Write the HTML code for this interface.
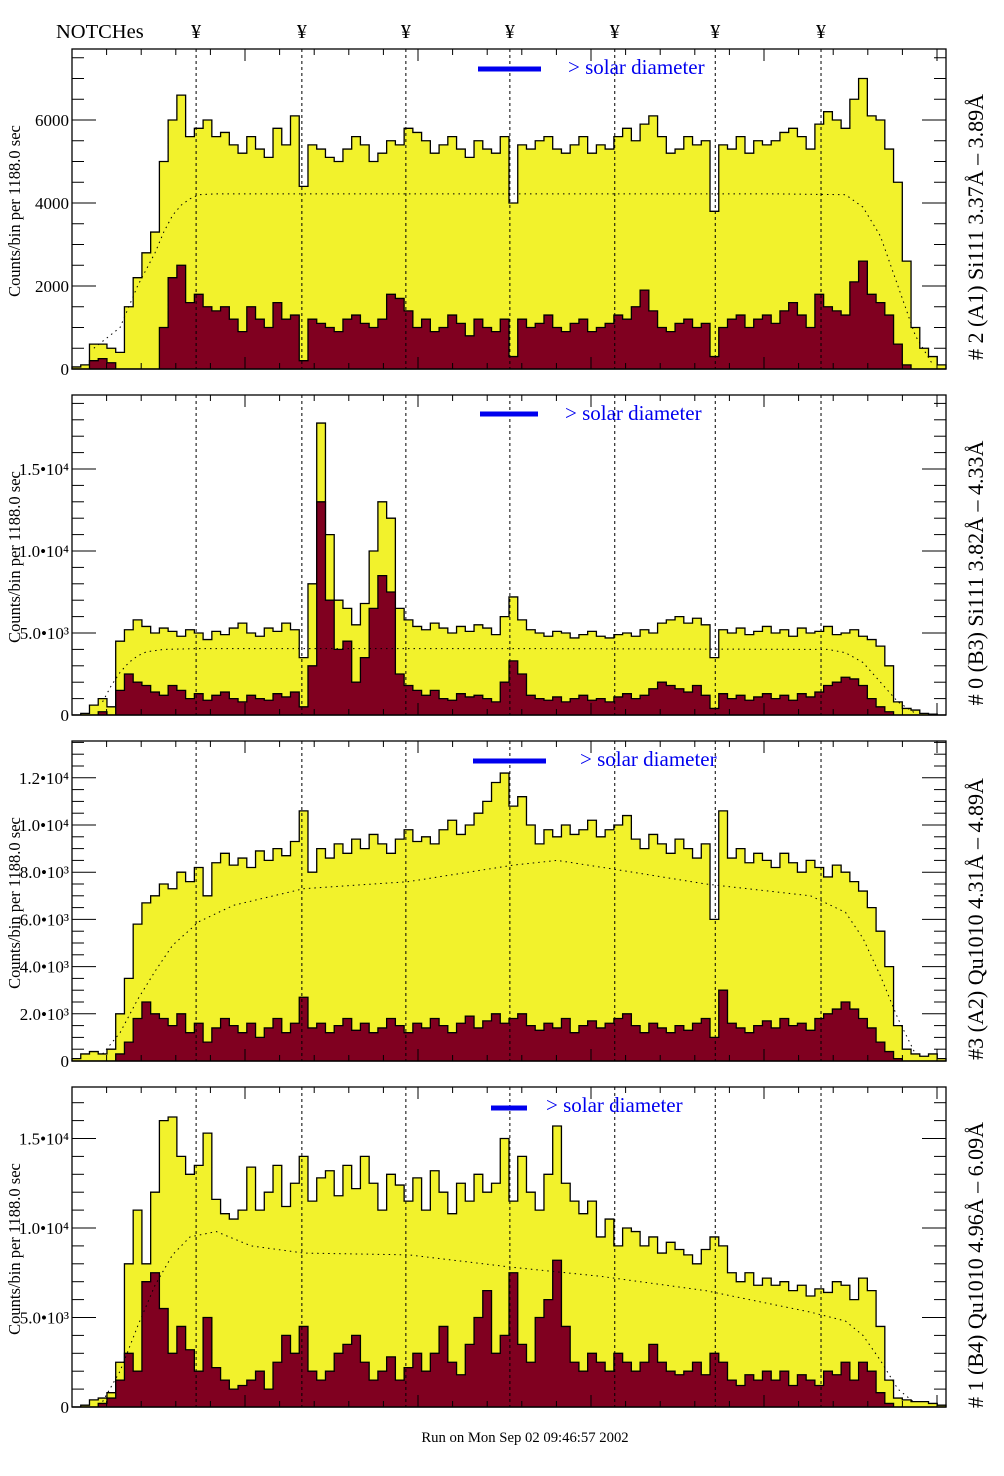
<!DOCTYPE html>
<html><head><meta charset="utf-8"><style>
html,body{margin:0;padding:0;background:#fff;}
svg{display:block;font-family:"Liberation Serif",serif;}
</style></head><body>
<svg id="chart" width="1004" height="1476" viewBox="0 0 1004 1476" xmlns="http://www.w3.org/2000/svg">
<rect x="0" y="0" width="1004" height="1476" fill="#fff"/>
<text x="56" y="38" font-size="20.5">NOTCHes</text>
<text x="525" y="1442" font-size="14.7" text-anchor="middle">Run on Mon Sep 02 09:46:57 2002</text>
</svg>
<script>
// ---- data (values in thousands of counts) ----
const p1Yellow=[0.05,0.1,0.6,0.6,0.5,0.4,1.5,2.2,2.8,3.3, 5.0,6.0,6.6,5.6,5.8,6.0,5.6,5.7,5.4,5.2, 5.6,5.3,5.1,5.8,5.4,6.1,4.4,5.4,5.3,5.1, 5.0,5.3,5.6,5.4,5.0,5.2,5.5,5.4,5.8,5.7, 5.5,5.2,5.4,5.6,5.3,5.1,5.5,5.3,5.2,5.6, 4.0,5.4,5.3,5.5,5.6,5.3,5.2,5.4,5.6,5.2, 5.4,5.3,5.6,5.8,5.5,5.9,6.1,5.6,5.2,5.3, 5.6,5.4,5.5,3.8,5.4,5.3,5.6,5.2,5.5,5.4, 5.5,5.7,5.8,5.6,5.3,5.9,6.2,6.0,5.8,6.5, 7.0,6.1,6.0,5.3,4.5,2.6,1.0,0.5,0.3,0.1];
const p1Red=[0,0,0.2,0.25,0.15,0,0,0,0,0, 1.0,2.2,2.5,1.6,1.8,1.5,1.4,1.5,1.2,0.9, 1.5,1.2,1.0,1.6,1.2,1.3,0.2,1.2,1.1,1.0, 0.9,1.2,1.3,1.1,1.0,1.2,1.8,1.7,1.4,1.0, 1.2,0.9,1.0,1.3,1.1,0.8,1.2,1.0,0.9,1.2, 0.3,1.2,1.0,1.1,1.3,1.0,0.9,1.1,1.2,0.9, 1.0,1.1,1.3,1.2,1.5,1.9,1.4,1.0,0.9,1.1, 1.2,1.0,1.1,0.3,1.0,1.2,1.3,1.0,1.2,1.3, 1.1,1.4,1.6,1.3,1.0,1.8,1.5,1.4,1.3,2.1, 2.6,1.8,1.6,1.3,0.6,0.1,0,0,0,0];
const p1CurveBin=[2,5,7,9,10,11,12,13,14,16,20,50,80,88,90,92,94,96,98];
const p1CurveVal=[0.5,1.0,2.0,2.8,3.3,3.7,3.95,4.1,4.2,4.22,4.22,4.22,4.22,4.2,3.9,3.2,2.0,0.8,0.1];

const p2Yellow=[0,0.1,0.6,1.0,0.5,4.5,5.2,5.8,5.4,5.0, 5.3,5.1,4.8,5.2,5.0,4.6,5.1,4.9,5.3,5.6, 5.0,4.8,5.3,5.1,5.6,5.2,3.5,8.0,17.8,11.0, 7.0,6.5,5.5,6.8,10.0,13.0,12.0,6.5,5.8,5.4, 5.2,5.6,5.3,5.0,5.4,5.1,5.5,5.3,4.9,6.0, 7.2,5.8,5.2,5.0,4.8,5.1,5.0,4.7,4.9,5.1, 4.8,4.7,4.9,5.0,4.8,5.2,5.0,5.6,5.8,6.0, 5.6,5.9,5.5,3.5,5.2,5.0,5.3,4.9,5.1,5.4, 5.0,5.2,4.8,5.3,5.0,5.1,5.4,4.9,5.0,5.2, 4.8,4.6,4.2,3.0,0.8,0.4,0.3,0.1,0.05,0];
const p2Red=[0,0,0,0.2,0,1.5,2.5,2.0,1.8,1.4, 1.2,1.8,1.5,1.0,1.3,0.9,1.2,1.4,1.0,0.8, 1.2,1.0,0.9,1.3,1.1,1.4,0.5,3.0,13.0,7.0, 4.0,4.5,2.0,3.5,6.5,8.5,7.5,2.5,1.8,1.5, 1.2,1.5,1.0,0.9,1.3,1.1,1.2,1.0,0.8,2.0, 3.3,2.5,1.2,1.0,0.9,1.1,0.8,1.0,1.2,0.9, 1.0,0.8,1.1,1.3,1.0,1.2,1.6,2.0,1.8,1.6, 1.4,1.8,1.2,0.4,1.3,1.0,1.2,0.9,1.1,1.3, 1.0,1.2,0.9,1.3,1.1,1.4,1.8,2.0,2.3,2.2, 1.8,1.0,0.5,0.2,0,0,0,0,0,0];
const p2CurveBin=[3,4,5,6,7,8,10,14,50,86,88,90,92,94,96];
const p2CurveVal=[0.8,1.8,2.6,3.2,3.6,3.85,4.0,4.05,4.05,4.0,3.8,3.2,2.0,0.8,0.1];

const p3Yellow=[0.1,0.3,0.4,0.3,0.5,2.0,3.5,5.8,6.7,7.0, 7.5,7.3,8.0,7.6,8.2,7.0,8.4,8.8,8.3,8.6, 8.2,8.9,8.5,9.0,8.7,9.3,10.6,8.0,9.0,8.6, 9.2,8.8,9.4,9.0,9.6,9.2,8.8,9.4,9.8,9.3, 9.5,9.2,9.8,10.2,9.6,10.0,10.5,11.0,11.8,12.2, 10.8,11.2,10.0,9.2,9.8,9.5,10.0,9.6,9.8,10.2, 9.5,9.8,10.0,10.4,9.4,9.0,9.6,9.2,8.8,9.4, 9.0,8.6,9.2,6.0,10.6,8.6,9.0,8.4,8.8,8.5, 8.2,8.8,8.4,8.0,8.5,8.2,7.8,8.3,8.0,7.6, 7.2,6.5,5.5,4.0,1.5,0.5,0.3,0.2,0.3,0.1];
const p3Red=[0,0,0,0,0,0.3,0.8,1.8,2.5,2.0, 1.8,1.5,2.0,1.2,1.6,0.8,1.4,1.8,1.5,1.2, 1.6,1.0,1.4,1.8,1.2,1.6,2.7,1.4,1.6,1.2, 1.5,1.8,1.3,1.6,1.2,1.4,1.8,1.5,1.2,1.6, 1.4,1.8,1.5,1.2,1.6,1.9,1.4,1.7,2.0,1.6, 1.8,2.0,1.5,1.3,1.6,1.4,1.8,1.2,1.5,1.7, 1.4,1.6,1.8,2.0,1.5,1.2,1.6,1.4,1.2,1.5, 1.3,1.6,1.8,1.0,3.0,1.6,1.4,1.2,1.5,1.7, 1.4,1.8,1.5,1.6,1.3,1.8,2.0,2.2,2.5,2.2, 1.8,1.4,0.8,0.4,0.1,0,0,0,0,0];
const p3CurveBin=[3,5,7,9,11,14,18,26,38,50,55,62,72,84,88,90,92,94,96];
const p3CurveVal=[0.3,1.2,2.6,3.8,4.9,5.9,6.6,7.3,7.6,8.3,8.5,8.1,7.5,7.0,6.3,5.2,3.6,1.8,0.3];

const p4Yellow=[0,0.1,0.4,0.5,0.8,2.5,8.0,11.0,8.0,12.0, 16.0,16.2,14.0,13.0,13.5,15.3,11.6,10.8,10.5,11.0, 13.4,11.0,12.0,13.5,11.2,12.5,14.0,11.5,12.8,13.2, 11.8,13.5,12.2,14.0,12.5,11.0,13.0,12.4,11.5,12.8, 11.0,13.2,12.0,10.8,12.5,11.5,13.0,12.0,12.5,15.0, 11.5,14.0,12.0,11.0,13.0,15.7,12.5,11.5,10.8,11.5, 9.5,10.5,9.0,10.0,9.8,9.0,9.5,8.6,9.2,8.8, 8.5,8.0,8.8,9.5,9.0,7.5,7.0,7.5,6.8,7.2, 6.8,7.0,6.5,6.8,6.2,6.6,6.4,7.0,6.8,6.0, 7.2,6.5,4.5,1.5,0.5,0.4,0.3,0.3,0.2,0.1];
const p4Red=[0,0,0,0.2,0.5,1.5,3.0,2.0,7.0,7.5, 5.5,3.0,4.5,3.2,2.0,5.0,2.2,1.5,1.0,1.2, 1.5,2.0,1.0,2.5,4.0,3.0,4.5,2.0,1.5,2.0, 3.0,3.5,4.0,2.5,1.5,2.0,2.8,1.5,2.2,3.0, 2.0,3.0,4.5,2.5,1.8,3.5,5.0,6.5,3.0,4.0, 7.5,3.5,2.5,5.0,6.0,8.2,4.5,2.5,2.0,3.0, 2.5,2.0,3.0,2.5,2.0,2.5,3.5,2.5,2.0,1.8, 2.0,2.5,1.8,3.0,2.5,1.5,1.2,1.8,1.5,2.0, 1.5,2.0,1.2,1.8,1.5,1.2,2.0,1.8,2.5,1.5, 2.5,2.0,0.8,0.2,0,0,0,0,0,0];
const p4CurveBin=[3,5,7,9,11,13,16,20,26,38,50,60,72,84,88,90,92,94,96];
const p4CurveVal=[0.3,2.0,4.5,6.8,8.5,9.5,9.8,9.0,8.6,8.5,7.8,7.3,6.5,5.3,4.8,4.0,2.6,1.0,0.2];

const p1Ticks=["0","2000","4000","6000"];
const p1TickVals=[0,2,4,6];
const p2Ticks=["0","5.0•10³","1.0•10⁴","1.5•10⁴"];
const p2TickVals=[0,5,10,15];
const p3Ticks=["0","2.0•10³","4.0•10³","6.0•10³","8.0•10³","1.0•10⁴","1.2•10⁴"];
const p3TickVals=[0,2,4,6,8,10,12];
const p4Ticks=["0","5.0•10³","1.0•10⁴","1.5•10⁴"];
const p4TickVals=[0,5,10,15];
const notchBins=[14.2,26.3,38.2,50.1,62.1,73.6,85.7];

const panels=[
 {top:49,yel:p1Yellow,red:p1Red,cb:p1CurveBin,cv:p1CurveVal,tl:p1Ticks,tv:p1TickVals,pxk:41.5,minor:0.5,major:2,
  title:"# 2 (A1) Si111  3.37Å – 3.89Å",bar:[478,541,69],txt:[568,74]},
 {top:395,yel:p2Yellow,red:p2Red,cb:p2CurveBin,cv:p2CurveVal,tl:p2Ticks,tv:p2TickVals,pxk:16.4,minor:1,major:5,
  title:"# 0 (B3) Si111  3.82Å – 4.33Å",bar:[480,538,414],txt:[565,420]},
 {top:741,yel:p3Yellow,red:p3Red,cb:p3CurveBin,cv:p3CurveVal,tl:p3Ticks,tv:p3TickVals,pxk:23.6,minor:0.5,major:2,
  title:"#3 (A2) Qu1010  4.31Å – 4.89Å",bar:[473,546,761],txt:[580,766]},
 {top:1087,yel:p4Yellow,red:p4Red,cb:p4CurveBin,cv:p4CurveVal,tl:p4Ticks,tv:p4TickVals,pxk:17.9,minor:1,major:5,
  title:"# 1 (B4) Qu1010 4.96Å – 6.09Å",bar:[491,527,1108],txt:[546,1112]}
];
const NS="http://www.w3.org/2000/svg";
const svg=document.getElementById('chart');
const X0=72,X1=946,H=320,NB=100,BW=(X1-X0)/NB;
function xs(b){return X0+b*BW;}
function mk(tag,attrs,parent){const e=document.createElementNS(NS,tag);for(const k in attrs)e.setAttribute(k,attrs[k]);(parent||svg).appendChild(e);return e;}
notchBins.forEach((b,i)=>{
  const t=mk('text',{x:xs(b),y:38,'font-size':20,'text-anchor':'middle'});
  
  
  t.textContent='¥';
});
panels.forEach((p,pi)=>{
  const bot=p.top+H;
  const ys=v=>Math.max(p.top,bot-v*p.pxk);
  const g=mk('g',{});
  
  
  function step(arr,fill,name){
    let d='M'+xs(0)+','+bot;
    arr.forEach((v,i)=>{d+=' L'+xs(i).toFixed(2)+','+ys(v).toFixed(2)+' L'+xs(i+1).toFixed(2)+','+ys(v).toFixed(2);});
    d+=' L'+xs(NB)+','+bot+' Z';
    const e=mk('path',{d:d,fill:fill,stroke:'#000','stroke-width':1.3},g);
    
    
  }
  step(p.yel,'#f2f22c','total-counts-histogram');
  step(p.red,'#800020','selected-counts-histogram');
  let cd='';
  p.cb.forEach((b,i)=>{cd+=(i?' L':'M')+xs(b+0.5).toFixed(2)+','+ys(p.cv[i]).toFixed(2);});
  const c=mk('path',{d:cd,fill:'none',stroke:'#000','stroke-width':1,'stroke-dasharray':'1.5,4'},g);
  
  
  notchBins.forEach(b=>{
    const l=mk('line',{x1:xs(b),x2:xs(b),y1:p.top,y2:bot,stroke:'#000','stroke-width':1,'stroke-dasharray':'3,3'},g);
    
    
  });
  const fr=mk('rect',{x:X0,y:p.top,width:X1-X0,height:H,fill:'none',stroke:'#000','stroke-width':1.3},g);
  
  
  for(let k=0;k*34.6<=X1-X0+1;k++){
    const x=X0+k*34.6,len=(k%5==0)?12:6;
    mk('line',{x1:x,x2:x,y1:p.top,y2:p.top+len,stroke:'#000'},g);
    mk('line',{x1:x,x2:x,y1:bot,y2:bot-len,stroke:'#000'},g);
  }
  const maxv=H/p.pxk;
  for(let v=0;v<=maxv+1e-6;v+=p.minor){
    const y=bot-v*p.pxk;const isMaj=Math.abs(v/p.major-Math.round(v/p.major))<1e-6;const len=isMaj?24:12;
    mk('line',{x1:X0,x2:X0+len,y1:y,y2:y,stroke:'#000'},g);
    mk('line',{x1:X1,x2:X1-len,y1:y,y2:y,stroke:'#000'},g);
  }
  p.tl.forEach((lab,i)=>{
    const t=mk('text',{x:69,y:bot-p.tv[i]*p.pxk+6,'font-size':17,'text-anchor':'end'},g);
    
    
    t.textContent=lab;
  });
  const cy=p.top+H/2;
  const yt=mk('text',{x:0,y:0,'font-size':16.5,'text-anchor':'middle',transform:'translate(20,'+(cy+2)+') rotate(-90)'},g);
  
  
  yt.setAttribute('xml:space','preserve');
  yt.textContent='Counts/bin per   1188.0 sec';
  const rt=mk('text',{x:0,y:0,'font-size':22,'text-anchor':'middle',transform:'translate(983,'+(cy+18)+') rotate(-90)'},g);
  
  
  rt.textContent=p.title;
  const bar=mk('line',{x1:p.bar[0],x2:p.bar[1],y1:p.bar[2],y2:p.bar[2],stroke:'#0000ee','stroke-width':5},g);
  
  
  const st=mk('text',{x:p.txt[0],y:p.txt[1],'font-size':21,fill:'#0000ee'},g);
  
  
  st.textContent='> solar diameter';
});
</script>
</body></html>
